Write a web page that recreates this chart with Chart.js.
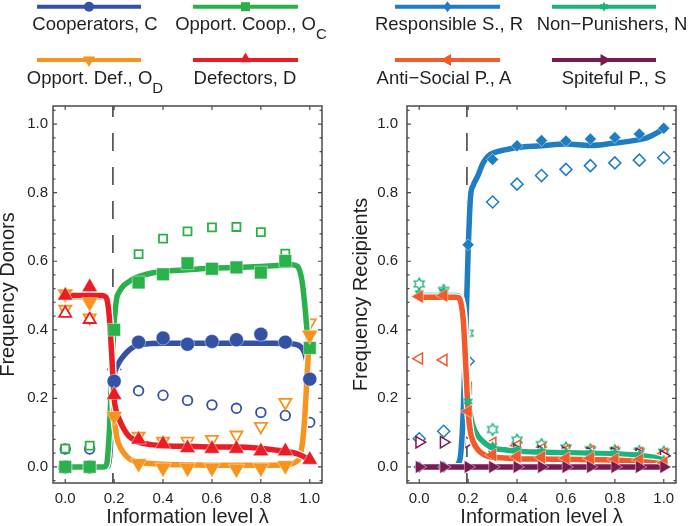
<!DOCTYPE html>
<html>
<head>
<meta charset="utf-8">
<script src="https://cdn.jsdelivr.net/npm/chart.js@4.4.1/dist/chart.umd.min.js"></script>
<style>
  html, body { margin: 0; padding: 0; background: #fff; overflow: hidden; }
  #wrap { position: relative; width: 688px; height: 526px; overflow: hidden;
          font-family: 'Liberation Sans', Arial, Helvetica, sans-serif; color: #231f20; }
  canvas { position: absolute; top: 0; }
  .lab { position: absolute; width: 220px; text-align: center; font-size: 18.5px;
         line-height: 20px; white-space: nowrap; }
  .lab .s { font-size: 15px; position: relative; top: 8.5px; line-height: 0; }
</style>
</head>
<body>
<div id="wrap">
  <canvas id="cL" width="344" height="532" style="left:0;width:344px;height:532px"></canvas>
  <canvas id="cR" width="344" height="532" style="left:344px;width:344px;height:532px"></canvas>
  <canvas id="leg" width="688" height="100" style="left:0;width:688px;height:100px"></canvas>
  <div class="lab" style="left:-15px;top:14px">Cooperators, C</div>
  <div class="lab" style="left:141px;top:14px">Opport. Coop., O<span class="s">C</span></div>
  <div class="lab" style="left:-15px;top:68px">Opport. Def., O<span class="s">D</span></div>
  <div class="lab" style="left:135px;top:68px">Defectors, D</div>
  <div class="lab" style="left:339px;top:14px">Responsible S., R</div>
  <div class="lab" style="left:502px;top:14px">Non−Punishers, N</div>
  <div class="lab" style="left:334px;top:68px">Anti−Social P., A</div>
  <div class="lab" style="left:504px;top:68px">Spiteful P., S</div>
</div>
<script>
// x positions of the markers and of the model curves
const lambdaPts = [0.0, 0.1, 0.2, 0.3, 0.4, 0.5, 0.6, 0.7, 0.8, 0.9, 1.0];
const lambdaFine = [0, 0.05, 0.1, 0.15, 0.16, 0.17, 0.18, 0.19, 0.2, 0.21,
                    0.22, 0.24, 0.26, 0.28, 0.3, 0.35, 0.4, 0.5, 0.6, 0.7,
                    0.8, 0.85, 0.9, 0.93, 0.95, 0.96, 0.97, 0.98, 0.99, 1.0];
const axisTicks = [0, 0.2, 0.4, 0.6, 0.8, 1.0];
const thresholdLambda = 0.195;

// Donors: model curves
const coopFit    = [0,0,0,0,0, 0,0.02,0.12,0.26,0.29, 0.305,0.325,0.34,0.35,0.356, 0.36,0.361,0.361,0.361,0.361, 0.361,0.361,0.36,0.359,0.356, 0.352,0.345,0.33,0.3,0.255];
const oppCoopFit = [0,0,0,0,0, 0.01,0.1,0.27,0.42,0.49, 0.51,0.53,0.54,0.55,0.555, 0.565,0.57,0.575,0.58,0.582, 0.585,0.587,0.589,0.59,0.585, 0.57,0.535,0.47,0.39,0.345];
const oppDefFit  = [0.495,0.495,0.495,0.495,0.494, 0.48,0.43,0.3,0.15,0.09, 0.065,0.04,0.025,0.017,0.013, 0.01,0.008,0.006,0.005,0.005, 0.005,0.005,0.006,0.01,0.018, 0.03,0.07,0.15,0.28,0.385];
const defFit     = [0.5,0.5,0.5,0.5,0.498, 0.49,0.44,0.33,0.2,0.16, 0.14,0.11,0.09,0.08,0.072, 0.065,0.062,0.06,0.058,0.058, 0.054,0.05,0.046,0.042,0.038, 0.035,0.032,0.028,0.024,0.02];
// Donors: simulation (filled) and experiment (open)
const coopSim    = [0, 0, 0.25, 0.364, 0.376, 0.358, 0.366, 0.371, 0.387, 0.364, 0.256];
const oppCoopSim = [0, 0, 0.40, 0.538, 0.562, 0.594, 0.578, 0.582, 0.567, 0.601, 0.347];
const oppDefSim  = [0.505, 0.48, 0.148, 0.01, -0.003, -0.003, -0.003, -0.006, -0.003, 0.004, 0.385];
const defSim     = [0.50, 0.525, 0.21, 0.08, 0.067, 0.055, 0.053, 0.053, 0.046, 0.046, 0.021];
const coopExp    = [0.052, 0.052, 0.114, 0.222, 0.209, 0.194, 0.181, 0.171, 0.159, 0.15, 0.13];
const oppCoopExp = [0.053, 0.062, null, 0.621, 0.666, 0.687, 0.699, 0.70, 0.685, 0.622, null];
const oppDefExp  = [0.46, 0.435, null, 0.09, 0.075, 0.075, 0.08, 0.093, 0.118, 0.188, 0.42];
const defExp     = [0.448, 0.43, 0.295, null, null, null, null, null, null, null, null];

// Recipients: model curves
const respFit    = [0,0,0,0,0.01, 0.04,0.16,0.38,0.63,0.79, 0.82,0.85,0.885,0.905,0.915, 0.925,0.932,0.937,0.942,0.938, 0.945,0.949,0.955,0.96,0.966, 0.97,0.974,0.978,0.982,0.986];
const nonPunFit  = [0.5,0.5,0.5,0.5,0.499, 0.49,0.45,0.33,0.19,0.15, 0.12,0.09,0.075,0.063,0.055, 0.05,0.046,0.043,0.041,0.04, 0.038,0.036,0.034,0.031,0.029, 0.028,0.026,0.024,0.022,0.02];
const antiFit    = [0.495,0.495,0.495,0.495,0.494, 0.48,0.43,0.3,0.16,0.1, 0.075,0.05,0.038,0.031,0.028, 0.026,0.024,0.023,0.022,0.021, 0.02,0.018,0.016,0.014,0.013, 0.012,0.011,0.01,0.009,0.008];
const spiteFit   = [0,0,0,0,0, 0,0,0,0,0, 0,0,0,0,0, 0,0,0,0,0, 0,0,0,0,0, 0,0,0,0,0];
// Recipients: simulation (filled) and experiment (open)
const respSim    = [0, 0, 0.648, 0.897, 0.937, 0.952, 0.951, 0.957, 0.961, 0.971, 0.988];
const nonPunSim  = [0.507, 0.512, 0.191, 0.06, 0.05, 0.045, 0.042, 0.04, 0.04, 0.035, 0.02];
const antiSim    = [0.497, 0.5, 0.162, 0.035, 0.03, 0.028, 0.025, 0.025, 0.022, 0.02, 0.012];
const spiteSim   = [0, 0, 0, 0, 0, 0, 0, 0, 0, 0, 0];
const respExp    = [0.082, 0.104, 0.308, 0.773, 0.825, 0.85, 0.868, 0.879, 0.887, 0.895, 0.902];
const nonPunExp  = [0.534, 0.515, 0.39, 0.109, 0.078, 0.065, 0.055, 0.05, 0.047, 0.045, 0.043];
const antiExp    = [0.316, 0.312, 0.23, 0.07, 0.062, 0.052, 0.048, 0.045, 0.043, 0.04, 0.038];
const spiteExp   = [0.072, 0.072, 0.072, 0.05, 0.05, 0.045, 0.042, 0.04, 0.04, 0.038, 0.032];

const COL = {
  C: '#3452a4', OC: '#2bb14b', OD: '#f7941e', D: '#ea1d25',
  R: '#1f7dc2', N: '#20b27c', A: '#f15a2b', S: '#7b1a50'
};

Chart.defaults.font.family = "'Liberation Sans', Arial, Helvetica, sans-serif";
Chart.defaults.color = '#231f20';

// hexagram marker (Matlab 'h') as small canvas
function starPath(ctx, x, y, R) {
  const r = R / Math.sqrt(3);
  ctx.beginPath();
  for (let k = 0; k < 12; k++) {
    const a = (-90 + k * 30) * Math.PI / 180;
    const rr = k % 2 === 0 ? R : r;
    const px = x + rr * Math.cos(a), py = y + rr * Math.sin(a);
    k === 0 ? ctx.moveTo(px, py) : ctx.lineTo(px, py);
  }
  ctx.closePath();
}
function starImg(color, filled, R) {
  const s = Math.ceil(2 * R + 4);
  const c = document.createElement('canvas');
  c.width = c.height = s;
  const ctx = c.getContext('2d');
  starPath(ctx, s / 2, s / 2, R);
  if (filled) { ctx.fillStyle = color; ctx.fill(); }
  else { ctx.fillStyle = '#fff'; ctx.fill(); ctx.strokeStyle = color; ctx.lineWidth = 1.4; ctx.stroke(); }
  return c;
}

const pts = (xs, ys) => xs.map((x, i) => ({ x: x, y: ys[i] }));

function curve(ys, color) {
  const base = { data: pts(lambdaFine, ys), pointRadius: 0, cubicInterpolationMode: 'monotone',
                 borderCapStyle: 'round', borderJoinStyle: 'round', fill: false };
  return [
    Object.assign({}, base, { borderColor: '#fff', borderWidth: 8 }),
    Object.assign({}, base, { borderColor: color, borderWidth: 5.5 })
  ];
}
function filledPts(ys, color, style, r, rot) {
  return { data: pts(lambdaPts, ys), showLine: false, pointStyle: style, pointRadius: r,
           pointRotation: rot || 0, pointBackgroundColor: color,
           pointBorderColor: 'rgba(255,255,255,0.55)', pointBorderWidth: 0.8 };
}
function openPts(ys, color, style, r, rot) {
  return { data: pts(lambdaPts, ys), showLine: false, pointStyle: style, pointRadius: r,
           pointRotation: rot || 0, pointBackgroundColor: '#fff',
           pointBorderColor: color, pointBorderWidth: 1.8 };
}

// frame, inward ticks and threshold line
const framePlugin = {
  id: 'frame',
  beforeDatasetsDraw(chart) {
    const { ctx, chartArea: a, scales: { x } } = chart;
    const px = x.getPixelForValue(thresholdLambda);
    ctx.save();
    ctx.strokeStyle = '#3a3a3a'; ctx.lineWidth = 1.5;
    ctx.setLineDash([18, 16]); ctx.lineDashOffset = 7;
    ctx.beginPath(); ctx.moveTo(px, a.top); ctx.lineTo(px, a.bottom); ctx.stroke();
    ctx.restore();
  },
  afterDatasetsDraw(chart) {
    const { ctx, chartArea: a, scales: { x, y } } = chart;
    ctx.save();
    ctx.strokeStyle = '#4a4a4a';
    ctx.lineWidth = 1.2;
    ctx.beginPath();
    axisTicks.forEach(v => {
      const px = x.getPixelForValue(v);
      ctx.moveTo(px, a.top); ctx.lineTo(px, a.top + 4);
      ctx.moveTo(px, a.bottom); ctx.lineTo(px, a.bottom - 4);
    });
    for (let k = -1; k <= 26; k++) {
      const v = k * 0.04;
      if (v < y.min || v > y.max) continue;
      const py = y.getPixelForValue(v);
      const len = (k % 5 === 0) ? 4 : 2.5;
      ctx.moveTo(a.left, py); ctx.lineTo(a.left + len, py);
      ctx.moveTo(a.right, py); ctx.lineTo(a.right - len, py);
    }
    ctx.stroke();
    ctx.lineWidth = 1.5;
    ctx.strokeRect(a.left, a.top, a.right - a.left, a.bottom - a.top);
    ctx.restore();
  }
};

function makeChart(id, datasets, yTitle, yWidth, padRight, yTitlePad, yTickPad) {
  datasets.forEach((d, i) => { d.order = datasets.length - i; });
  return new Chart(document.getElementById(id), {
    type: 'line',
    data: { datasets: datasets },
    plugins: [framePlugin],
    options: {
      responsive: false, animation: false, events: [],
      layout: { padding: { top: 106, right: padRight, left: 0, bottom: 0 } },
      plugins: { legend: { display: false }, tooltip: { enabled: false } },
      scales: {
        x: {
          type: 'linear', min: -0.05, max: 1.05,
          afterBuildTicks: s => { s.ticks = axisTicks.map(v => ({ value: v })); },
          afterFit: s => { s.height = 49; },
          grid: { display: false, drawTicks: false },
          border: { display: false },
          ticks: { padding: 7, font: { size: 15 }, color: '#231f20', callback: v => v.toFixed(1) },
          title: { display: true, text: 'Information level λ', font: { size: 20, lineHeight: 1 },
                   padding: { bottom: 4.6, top: 0 }, color: '#231f20' }
        },
        y: {
          type: 'linear', min: -0.047, max: 1.053,
          afterBuildTicks: s => { s.ticks = axisTicks.map(v => ({ value: v })); },
          afterFit: s => { s.width = yWidth; },
          grid: { display: false, drawTicks: false },
          border: { display: false },
          ticks: { padding: yTickPad, font: { size: 15 }, color: '#231f20', callback: v => v.toFixed(1) },
          title: { display: true, text: yTitle, font: { size: 20, lineHeight: 1 },
                   padding: { top: yTitlePad, bottom: 0 }, color: '#231f20' }
        }
      }
    }
  });
}

const donorSets = [
  openPts(coopExp, COL.C, 'circle', 4.8),
  openPts(oppCoopExp, COL.OC, 'rect', 5.7),
  openPts(oppDefExp, COL.OD, 'triangle', 7, 180),
  openPts(defExp, COL.D, 'triangle', 7),
  ...curve(coopFit, COL.C),
  ...curve(oppCoopFit, COL.OC),
  ...curve(oppDefFit, COL.OD),
  ...curve(defFit, COL.D),
  filledPts(coopSim, COL.C, 'circle', 7),
  filledPts(oppCoopSim, COL.OC, 'rect', 9),
  filledPts(oppDefSim, COL.OD, 'triangle', 9.5, 180),
  filledPts(defSim, COL.D, 'triangle', 9)
];
makeChart('cL', donorSets, 'Frequency Donors', 53, 22, -2, 5);

const recipSets = [
  openPts(respExp, COL.R, 'rectRot', 6),
  openPts(nonPunExp, COL.N, starImg(COL.N, false, 5.8), 6),
  openPts(antiExp, COL.A, 'triangle', 6.5, 270),
  openPts(spiteExp, COL.S, 'triangle', 6.5, 90),
  ...curve(respFit, COL.R),
  ...curve(nonPunFit, COL.N),
  ...curve(antiFit, COL.A),
  ...curve(spiteFit, COL.S),
  filledPts(respSim, COL.R, 'rectRot', 6),
  filledPts(nonPunSim, COL.N, starImg(COL.N, true, 5.5), 6),
  filledPts(antiSim, COL.A, 'triangle', 8, 270),
  filledPts(spiteSim, COL.S, 'triangle', 7.5, 90)
];
recipSets.forEach(d => { if (d.showLine === false) d.pointBorderWidth = d.pointBackgroundColor === '#fff' ? 1.5 : 0.8; });
makeChart('cR', recipSets, 'Frequency Recipients', 63, 12, 7.4, 9);

// legend samples: line with marker in the middle
(function drawLegend() {
  const ctx = document.getElementById('leg').getContext('2d');
  function tri(cx, cy, r, deg) {
    ctx.beginPath();
    for (let k = 0; k < 3; k++) {
      const a = (deg + k * 120) * Math.PI / 180;
      const px = cx + r * Math.sin(a), py = cy - r * Math.cos(a);
      k === 0 ? ctx.moveTo(px, py) : ctx.lineTo(px, py);
    }
    ctx.closePath(); ctx.fill();
  }
  const items = [
    { x0: 37, x1: 141, y: 6.7, c: COL.C, m: 'circle' },
    { x0: 193, x1: 298, y: 6.7, c: COL.OC, m: 'square' },
    { x0: 37, x1: 141, y: 60, c: COL.OD, m: 'down' },
    { x0: 193, x1: 298, y: 60, c: COL.D, m: 'up' },
    { x0: 395, x1: 500, y: 6.7, c: COL.R, m: 'diamond' },
    { x0: 552, x1: 656, y: 6.7, c: COL.N, m: 'star' },
    { x0: 395, x1: 500, y: 60, c: COL.A, m: 'left' },
    { x0: 552, x1: 656, y: 60, c: COL.S, m: 'right' }
  ];
  items.forEach(it => {
    ctx.strokeStyle = it.c; ctx.fillStyle = it.c; ctx.lineWidth = 4;
    ctx.beginPath(); ctx.moveTo(it.x0, it.y); ctx.lineTo(it.x1, it.y); ctx.stroke();
    const cx = (it.x0 + it.x1) / 2, cy = it.y;
    switch (it.m) {
      case 'circle': ctx.beginPath(); ctx.arc(cx, cy, 5, 0, 2 * Math.PI); ctx.fill(); break;
      case 'square': ctx.fillRect(cx - 4.5, cy - 4.5, 9, 9); break;
      case 'down': tri(cx, cy, 7, 180); break;
      case 'up': tri(cx, cy - 1, 6.5, 0); break;
      case 'diamond':
        ctx.beginPath(); ctx.moveTo(cx, cy - 5.5); ctx.lineTo(cx + 4, cy);
        ctx.lineTo(cx, cy + 5.5); ctx.lineTo(cx - 4, cy); ctx.closePath(); ctx.fill(); break;
      case 'star': starPath(ctx, cx, cy, 5); ctx.fill(); break;
      case 'left': tri(cx, cy, 7, 270); break;
      case 'right': tri(cx, cy, 7, 90); break;
    }
  });
})();
</script>
</body>
</html>
